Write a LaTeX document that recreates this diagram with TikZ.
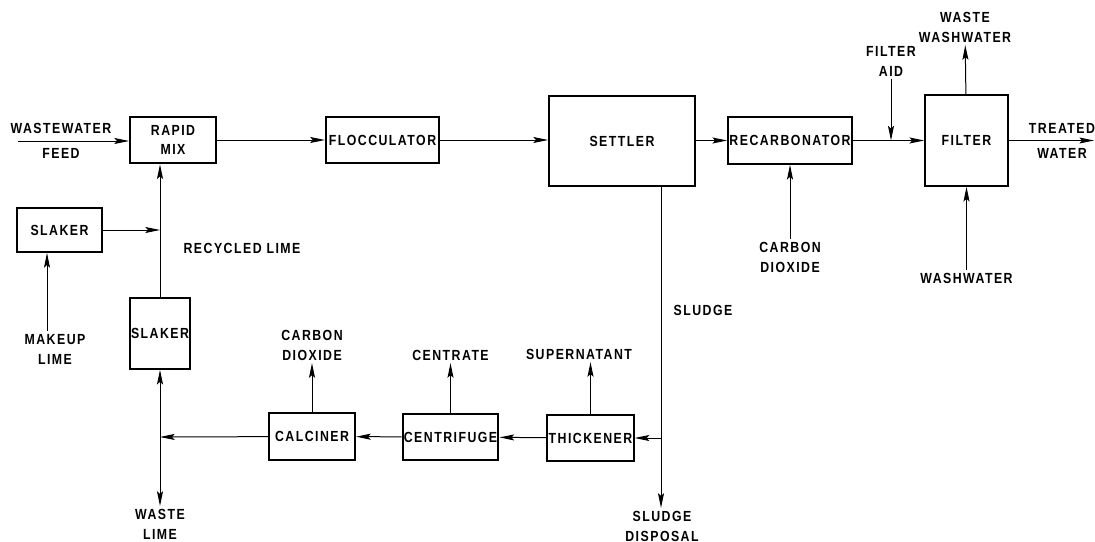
\documentclass[tikz,border=0pt]{standalone}
\usepackage{fontspec}
\setmainfont{Liberation Sans}[FakeStretch=0.84, LetterSpace=10, UprightFont=* Bold]
\usetikzlibrary{positioning, arrows.meta}

\begin{document}
\begin{tikzpicture}[
    x=0.75pt, y=-0.75pt,
    unit/.style={rectangle, draw, line width=1.5pt, minimum width=64pt, minimum height=35pt, inner sep=1pt, align=center, font=\fontsize{11}{14}\selectfont},
    txt/.style={align=center, inner sep=2pt, font=\fontsize{11}{15}\selectfont},
    flow/.style={-{Stealth[length=11pt, width=4.5pt, inset=2pt]}, line width=0.75pt}
]
\useasboundingbox (0,0) rectangle (1095,542);

% Main train
\node[unit, minimum width=64.5pt] (rapid) at (173,140) {RAPID\\MIX};
\node[unit, minimum width=85pt] (floc) at (382.5,140) {FLOCCULATOR};
\node[unit, minimum width=109.5pt, minimum height=67.5pt] (settler) at (622,141) {SETTLER};
\node[unit, minimum width=84pt] (recarb) at (790,140.5) {RECARBONATOR};
\node[unit, minimum width=62pt, minimum height=68pt] (filter) at (966.5,140.5) {FILTER};

% Lime recovery
\node[unit, minimum height=33pt] (slaker) at (59.5,230) {SLAKER};
\node[unit, minimum width=44pt, minimum height=53pt] (slakerb) at (160,333.5) {SLAKER};
\node[unit, minimum width=64.5pt] (calciner) at (312,436.5) {CALCINER};
\node[unit, minimum width=71pt] (centrifuge) at (450.5,437) {CENTRIFUGE};
\node[unit, minimum width=64pt] (thickener) at (590.5,438) {THICKENER};

% Streams in and out
\node[txt] (feed) at (61,141) {WASTEWATER\\[4pt]FEED};
\coordinate (feedin) at (18,141);
\node[txt] (treated) at (1062,141) {TREATED\\[4pt]WATER};
\coordinate (treatedout) at (1094,140.5);
\node[txt] (aid) at (891,61) {FILTER\\AID};
\coordinate (aidin) at (891,140.5);
\node[txt] (wastewash) at (965,27) {WASTE\\WASHWATER};
\node[txt] (washwater) at (966.5,278) {WASHWATER};
\node[txt] (co2a) at (790,257) {CARBON\\DIOXIDE};
\node[txt] (makeup) at (55,349) {MAKEUP\\LIME};
\node[txt] (recycled) at (242,248) {RECYCLED LIME};
\node[txt] (co2b) at (312,345) {CARBON\\DIOXIDE};
\node[txt] (centrate) at (450.5,355) {CENTRATE};
\node[txt] (supernatant) at (579,354) {SUPERNATANT};
\node[txt] (sludge) at (703,310) {SLUDGE};
\node[txt] (disposal) at (662,526) {SLUDGE\\DISPOSAL};
\node[txt] (wastelime) at (160,524) {WASTE\\LIME};

% Junctions
\coordinate (limejn) at (160,230);
\coordinate (returnjn) at (160,437);
\coordinate (sludgejn) at (661,438);

% Main flow
\draw[flow] (feedin) -- (rapid.west |- feedin);
\draw[flow] (rapid) -- (floc);
\draw[flow] (floc) -- (settler.west |- floc);
\draw[flow] (settler.east |- recarb) -- (recarb);
\draw[flow] (recarb) -- (filter);
\draw[flow] (aid) -- (aidin);
\draw[flow] (filter.east) -- (treatedout);
\draw[flow] (filter) -- (wastewash);
\draw[flow] (washwater) -- (filter);
\draw[flow] (co2a) -- (recarb);

% Lime loop
\draw[flow] ([xshift=-6pt]makeup.north) -- ([xshift=-6pt]makeup.north |- slaker.south);
\draw[flow] (slaker) -- (limejn);
\draw[flow] (slakerb) -- (slakerb |- rapid.south);
\draw[flow] (returnjn) -- (slakerb);
\draw[flow] (returnjn) -- (wastelime);
\draw[flow] (calciner) -- (returnjn);
\draw[flow] (centrifuge) -- (calciner);
\draw[flow] (thickener) -- (centrifuge);
\draw[flow] (calciner) -- (co2b);
\draw[flow] (centrifuge) -- (centrate);
\draw[flow] (thickener) -- (thickener |- supernatant.south);

% Sludge line
\draw[flow] (settler.south -| sludgejn) -- (sludgejn |- disposal.north);
\draw[flow] (sludgejn) -- (thickener);

\end{tikzpicture}
\end{document}
